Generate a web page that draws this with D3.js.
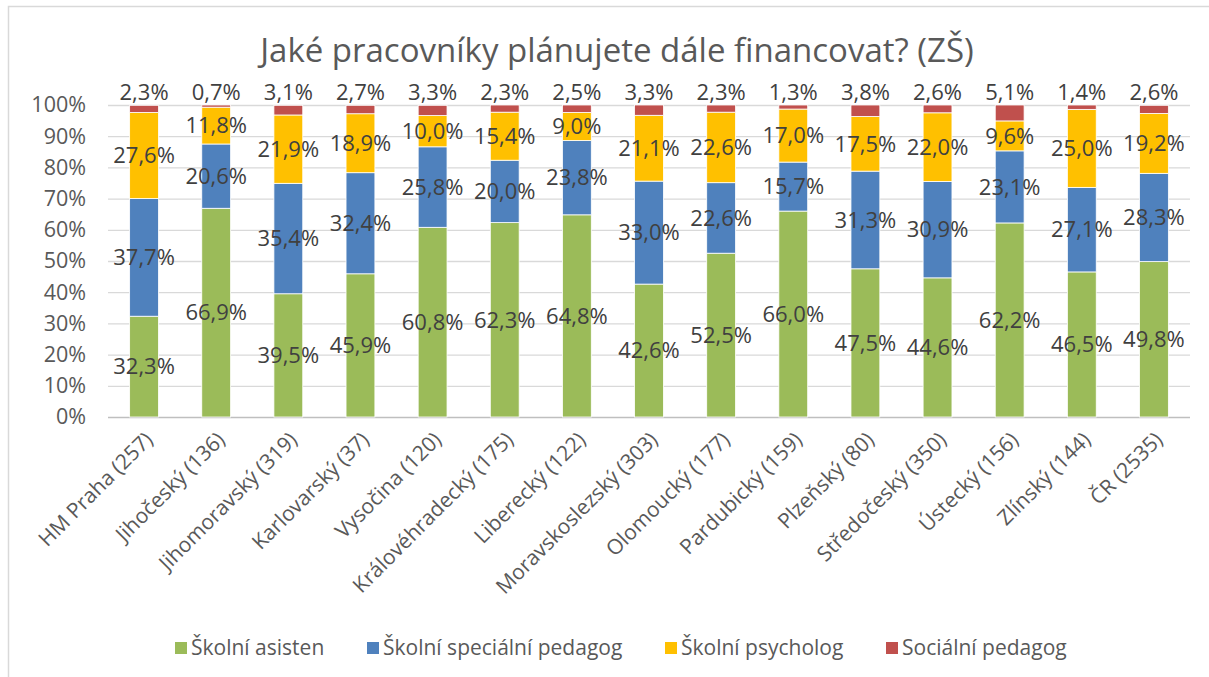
<!DOCTYPE html>
<html>
<head>
<meta charset="utf-8">
<script src="https://cdn.jsdelivr.net/npm/d3@7"></script>
<style>
  body { margin: 0; background: #fff; }
  text { font-family: "Open Sans", Lato, sans-serif; }
</style>
</head>
<body>
<div id="chart-area"></div>
<script>
// data
var regions = ["HM Praha (257)", "Jihočeský (136)", "Jihomoravský (319)", "Karlovarský (37)",
    "Vysočina (120)", "Královéhradecký (175)", "Liberecký (122)", "Moravskoslezský (303)",
    "Olomoucký (177)", "Pardubický (159)", "Plzeňský (80)", "Středočeský (350)",
    "Ústecký (156)", "Zlínský (144)", "ČR (2535)"]
var seriesNames = ["Školní asisten", "Školní speciální pedagog", "Školní psycholog", "Sociální pedagog"]
var asistent = [32.3, 66.9, 39.5, 45.9, 60.8, 62.3, 64.8, 42.6, 52.5, 66.0, 47.5, 44.6, 62.2, 46.5, 49.8]
var specPedagog = [37.7, 20.6, 35.4, 32.4, 25.8, 20.0, 23.8, 33.0, 22.6, 15.7, 31.3, 30.9, 23.1, 27.1, 28.3]
var psycholog = [27.6, 11.8, 21.9, 18.9, 10.0, 15.4, 9.0, 21.1, 22.6, 17.0, 17.5, 22.0, 9.6, 25.0, 19.2]
var socPedagog = [2.3, 0.7, 3.1, 2.7, 3.3, 2.3, 2.5, 3.3, 2.3, 1.3, 3.8, 2.6, 5.1, 1.4, 2.6]
var yTicks = [0, 10, 20, 30, 40, 50, 60, 70, 80, 90, 100]
var title = "Jaké pracovníky plánujete dále financovat? (ZŠ)"

var colors = ["#9BBB59", "#4F81BD", "#FFC000", "#C0504D"]
var keys = ["a", "s", "p", "c"]

var rows = regions.map((r, i) => ({
    region: r, a: asistent[i], s: specPedagog[i], p: psycholog[i], c: socPedagog[i]
}))

var W = 1209, H = 677
var margin = { left: 108, right: 19, top: 105, bottom: 260 }
var width = W - margin.left - margin.right,
    height = H - margin.top - margin.bottom

var svg = d3.select("#chart-area")
    .append("svg")
    .attr("width", W)
    .attr("height", H)

// chart frame
svg.append("rect")
    .attr("x", 8.5).attr("y", 6.5)
    .attr("width", 1240).attr("height", 720)
    .attr("fill", "#fff")
    .attr("stroke", "#d9d9d9")
    .attr("stroke-width", 1.5)

svg.append("text")
    .attr("x", 617)
    .attr("y", 62)
    .attr("text-anchor", "middle")
    .attr("font-size", "33px")
    .attr("fill", "#595959")
    .text(title)

var g = svg.append("g")
    .attr("transform", "translate(" + margin.left + "," + margin.top + ")")

var x = d3.scaleBand()
    .domain(regions)
    .range([0, width])
    .paddingInner(0.6)
    .paddingOuter(0.3)
var y = d3.scaleLinear()
    .domain([0, 100])
    .range([height, 0])

// gridlines
g.selectAll(".grid")
    .data(yTicks)
    .enter().append("line")
    .attr("class", "grid")
    .attr("x1", 0).attr("x2", width)
    .attr("y1", d => y(d) + 0.5).attr("y2", d => y(d) + 0.5)
    .attr("stroke", d => d === 0 ? "#bfbfbf" : "#d9d9d9")
    .attr("stroke-width", 1.3)

var yAxisCall = d3.axisLeft(y)
    .tickValues(yTicks)
    .tickSize(0)
    .tickPadding(22)
    .tickFormat(d => d + "%")
var yAxis = g.append("g").call(yAxisCall)
yAxis.select(".domain").remove()
yAxis.selectAll("text")
    .attr("font-size", "21.5px")
    .attr("fill", "#595959")
    .attr("font-family", "'Open Sans', sans-serif")

var stack = d3.stack().keys(keys)
var series = stack(rows)

var layers = g.selectAll(".layer")
    .data(series)
    .enter().append("g")
    .attr("class", "layer")
    .attr("fill", (d, i) => colors[i])

layers.selectAll("rect")
    .data(d => d)
    .enter().append("rect")
    .attr("x", d => x(d.data.region))
    .attr("width", x.bandwidth())
    .attr("y", d => y(Math.min(d[1], 100)))
    .attr("height", d => y(d[0]) - y(Math.min(d[1], 100)))
    .attr("stroke", "#fff")
    .attr("stroke-width", 0.8)

// value labels
var fmt = v => v.toFixed(1).replace(".", ",") + "%"
series.forEach((s, si) => {
    g.selectAll(".lbl" + si)
        .data(s)
        .enter().append("text")
        .attr("x", d => x(d.data.region) + x.bandwidth() / 2)
        .attr("y", d => si === 3 ? y(100) - 13 : y((d[0] + d[1]) / 2))
        .attr("dy", "0.35em")
        .attr("text-anchor", "middle")
        .attr("font-size", "22px")
        .attr("fill", "#404040")
        .text(d => fmt(d.data[keys[si]]))
})

// x labels
g.selectAll(".xlbl")
    .data(regions)
    .enter().append("text")
    .attr("text-anchor", "end")
    .attr("font-size", "21px")
    .attr("fill", "#595959")
    .attr("transform", d => "translate(" + (x(d) + x.bandwidth() / 2 + 10) + "," + (height + 24) + ") rotate(-45)")
    .text(d => d)

// legend
var legendX = [175, 367, 665, 886]
var legend = svg.selectAll(".legend")
    .data(seriesNames)
    .enter().append("g")
    .attr("transform", (d, i) => "translate(" + legendX[i] + ",648)")
legend.append("rect")
    .attr("x", 0).attr("y", -6)
    .attr("width", 12).attr("height", 12)
    .attr("fill", (d, i) => colors[i])
legend.append("text")
    .attr("x", 16)
    .attr("dy", "0.35em")
    .attr("font-size", "21px")
    .attr("fill", "#595959")
    .text(d => d)
</script>
</body>
</html>
